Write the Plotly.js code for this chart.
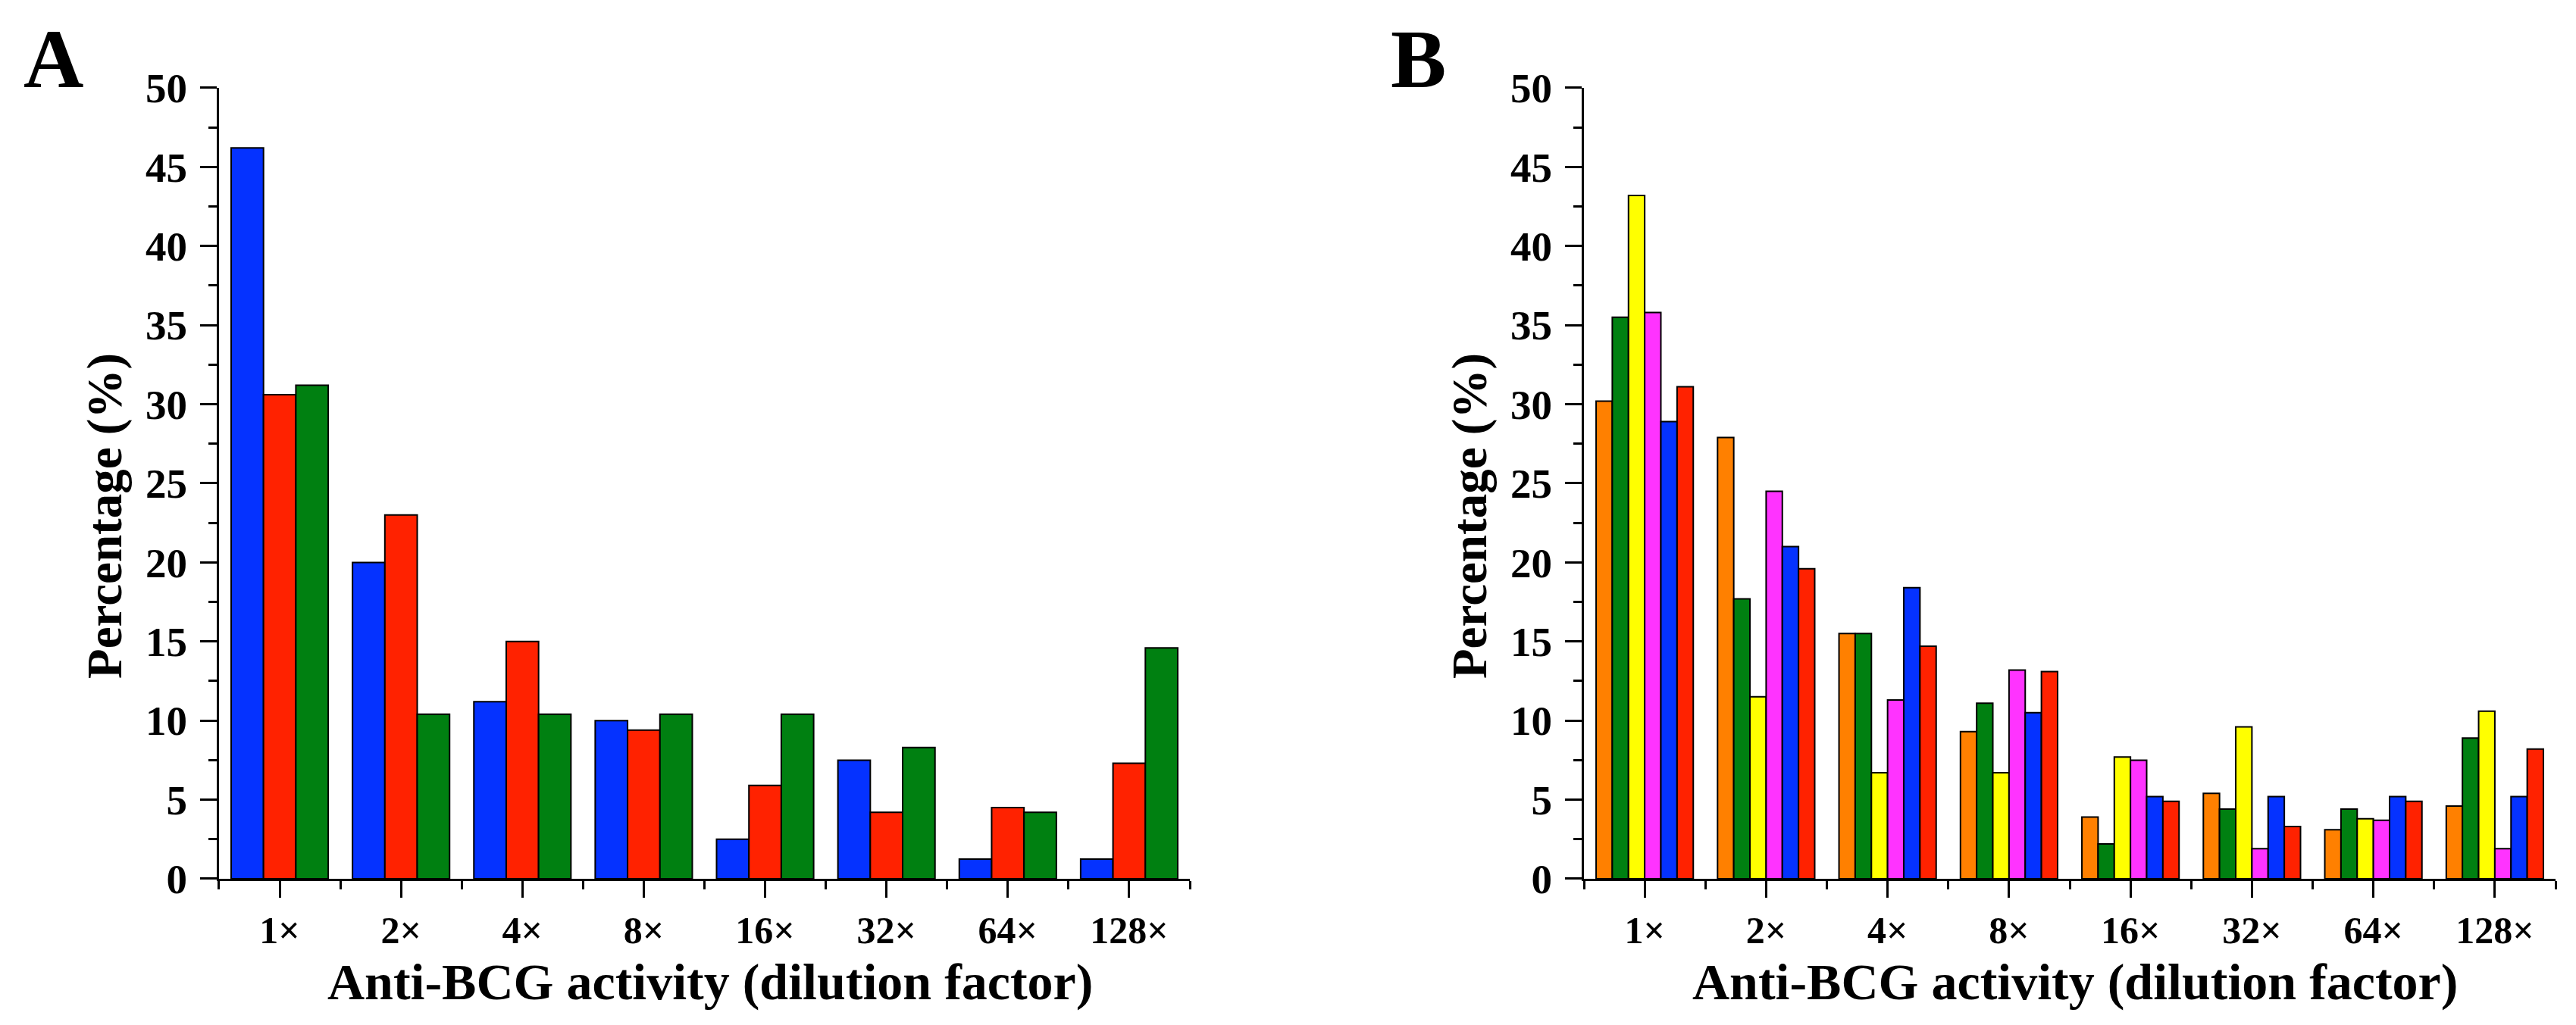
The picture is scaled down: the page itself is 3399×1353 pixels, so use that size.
<!DOCTYPE html>
<html>
<head>
<meta charset="utf-8">
<script src="https://cdn.plot.ly/plotly-3.0.1.min.js"></script>
<style>html,body{margin:0;padding:0;background:#fff;}#chart{width:3399px;height:1353px;}</style>
</head>
<body>
<div id="chart"></div>
<script>
// Categories (dilution factor)
const categories = ["1×", "2×", "4×", "8×", "16×", "32×", "64×", "128×"];

// Panel A series
const seriesA_blue  = [46.2, 20.0, 11.2, 10.0, 2.5, 7.5, 1.25, 1.25];
const seriesA_red   = [30.6, 23.0, 15.0, 9.4, 5.9, 4.2, 4.5, 7.3];
const seriesA_green = [31.2, 10.4, 10.4, 10.4, 10.4, 8.3, 4.2, 14.6];

// Panel B series
const seriesB_orange  = [30.2, 27.9, 15.5, 9.3, 3.9, 5.4, 3.1, 4.6];
const seriesB_green   = [35.5, 17.7, 15.5, 11.1, 2.2, 4.4, 4.4, 8.9];
const seriesB_yellow  = [43.2, 11.5, 6.7, 6.7, 7.7, 9.6, 3.8, 10.6];
const seriesB_magenta = [35.8, 24.5, 11.3, 13.2, 7.5, 1.9, 3.7, 1.9];
const seriesB_blue    = [28.9, 21.0, 18.4, 10.5, 5.2, 5.2, 5.2, 5.2];
const seriesB_red     = [31.1, 19.6, 14.7, 13.1, 4.9, 3.3, 4.9, 8.2];

const yTickVals = [0, 5, 10, 15, 20, 25, 30, 35, 40, 45, 50];

const xIdx = categories.map((c, i) => i);
const FONT = "Liberation Serif, Times New Roman, serif";

function bar(y, color, xa, ya) {
  return {
    type: "bar", x: xIdx, y: y, xaxis: xa, yaxis: ya,
    marker: {color: color, line: {color: "#000", width: 2}},
    showlegend: false, hoverinfo: "skip"
  };
}

const traces = [
  bar(seriesA_blue, "#0532FF", "x", "y"),
  bar(seriesA_red, "#FF2200", "x", "y"),
  bar(seriesA_green, "#008011", "x", "y"),
  bar(seriesB_orange, "#FF8000", "x2", "y2"),
  bar(seriesB_green, "#008011", "x2", "y2"),
  bar(seriesB_yellow, "#FFFF00", "x2", "y2"),
  bar(seriesB_magenta, "#FF33FF", "x2", "y2"),
  bar(seriesB_blue, "#0532FF", "x2", "y2"),
  bar(seriesB_red, "#FF2200", "x2", "y2")
];

function xaxis(domain, anchor) {
  return {
    domain: domain, anchor: anchor, range: [-0.5, 7.5],
    tickvals: xIdx, ticktext: categories,
    ticks: "outside", ticklen: 22, tickwidth: 3, tickcolor: "#000",
    minor: {tick0: -0.5, dtick: 1, ticks: "outside", ticklen: 11, tickwidth: 3, tickcolor: "#000"},
    showline: true, linecolor: "#000", linewidth: 3,
    showgrid: false, zeroline: false, fixedrange: true,
    ticklabelstandoff: 0,
    tickfont: {family: FONT, size: 50, color: "#000", weight: "bold"}
  };
}
function yaxis(anchor) {
  return {
    domain: [0.14265, 0.91427], anchor: anchor, range: [0, 50],
    tickvals: yTickVals,
    ticks: "outside", ticklen: 22, tickwidth: 3, tickcolor: "#000",
    minor: {tick0: 0, dtick: 2.5, ticks: "outside", ticklen: 11, tickwidth: 3, tickcolor: "#000"},
    showline: true, linecolor: "#000", linewidth: 3,
    showgrid: false, zeroline: false, fixedrange: true,
    ticklabelstandoff: 6,
    tickfont: {family: FONT, size: 55, color: "#000", weight: "bold"}
  };
}

function ann(text, x, y, size, angle) {
  return {
    text: "<b>" + text + "</b>", xref: "paper", yref: "paper", x: x, y: y,
    xanchor: "center", yanchor: "middle", showarrow: false,
    textangle: angle || 0,
    font: {family: FONT, size: size, color: "#000"}
  };
}

const layout = {
  width: 3399, height: 1353,
  margin: {l: 0, r: 0, t: 0, b: 0, pad: 0},
  paper_bgcolor: "#fff", plot_bgcolor: "#fff",
  barmode: "group", bargap: 0.2, bargroupgap: 0,
  xaxis: xaxis([0.08502, 0.46190], "y"),
  yaxis: yaxis("x"),
  xaxis2: xaxis([0.61489, 0.99206], "y2"),
  yaxis2: yaxis("x2"),
  annotations: [
    ann("A", 0.0207, 0.9424, 110),
    ann("B", 0.5507, 0.9424, 110),
    ann("Anti-BCG activity (dilution factor)", 0.2757, 0.042, 68),
    ann("Anti-BCG activity (dilution factor)", 0.8055, 0.042, 68),
    ann("Percentage (%)", 0.0406, 0.4967, 65, -90),
    ann("Percentage (%)", 0.5705, 0.4967, 65, -90)
  ]
};

Plotly.newPlot("chart", traces, layout, {staticPlot: true, displayModeBar: false});
</script>
</body>
</html>
